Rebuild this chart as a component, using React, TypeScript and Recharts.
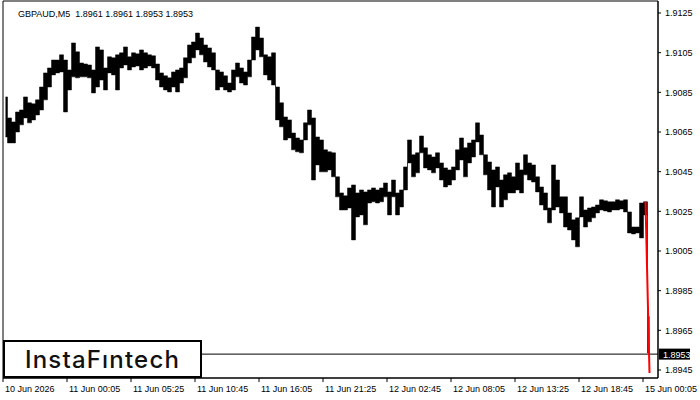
import React from "react";
import {
  ComposedChart,
  Area,
  Line,
  XAxis,
  YAxis,
  ReferenceLine,
  ReferenceArea,
} from "recharts";

// each column = 4 five-minute bars (high / low of the group)
const highs = [
  1.90827, 1.90721, 1.90701, 1.90751, 1.90761, 1.90827, 1.90797, 1.90792, 1.90812, 1.90877,
  1.90948, 1.90973, 1.91013, 1.91013, 1.91039, 1.91013, 1.90963, 1.91099, 1.91054, 1.90998,
  1.90993, 1.90988, 1.90963, 1.91079, 1.91064, 1.90973, 1.91029, 1.91024, 1.91039, 1.91049,
  1.91079, 1.91029, 1.91049, 1.91044, 1.91064, 1.91049, 1.91039, 1.91034, 1.90993, 1.90948,
  1.90933, 1.90923, 1.90953, 1.90963, 1.90973, 1.91024, 1.91089, 1.91104, 1.91149, 1.91124,
  1.91089, 1.91074, 1.91049, 1.90963, 1.90953, 1.90933, 1.90897, 1.90963, 1.90998, 1.90973,
  1.90953, 1.91013, 1.91129, 1.91179, 1.91124, 1.91039, 1.91029, 1.91049, 1.90877, 1.90797,
  1.90726, 1.90711, 1.90645, 1.9062, 1.9061, 1.90696, 1.90761, 1.90721, 1.90625, 1.9061,
  1.9056, 1.9055, 1.90545, 1.90424, 1.90343, 1.90328, 1.90368, 1.90383, 1.90343, 1.90358,
  1.90348, 1.90358, 1.90368, 1.90358, 1.90368, 1.90393, 1.90348, 1.90408, 1.90343, 1.90358,
  1.90474, 1.9061, 1.90535, 1.90545, 1.9063, 1.9057, 1.90535, 1.90524, 1.90545, 1.90494,
  1.90469, 1.90459, 1.90474, 1.9056, 1.9062, 1.9057, 1.90595, 1.9061, 1.90696, 1.90635,
  1.90535, 1.90499, 1.90459, 1.90474, 1.90408, 1.90434, 1.90444, 1.90424, 1.90494, 1.90459,
  1.90535, 1.90494, 1.90484, 1.90424, 1.90373, 1.90343, 1.90267, 1.90484, 1.90408, 1.90323,
  1.90323, 1.90242, 1.90207, 1.90217, 1.90323, 1.90257, 1.90267, 1.90272, 1.90282, 1.90308,
  1.90303, 1.90298, 1.90298, 1.90308, 1.90303, 1.90308, 1.90247, 1.90171, 1.90171, 1.90292,
  1.90298, 1.89718,
];
const lows = [
  1.90625, 1.90595, 1.90595, 1.9065, 1.90686, 1.90721, 1.90696, 1.90711, 1.90736, 1.90761,
  1.90812, 1.90877, 1.90938, 1.90948, 1.90953, 1.90751, 1.90862, 1.90928, 1.90923, 1.90928,
  1.90928, 1.90923, 1.90847, 1.90877, 1.90912, 1.90862, 1.90948, 1.90938, 1.90862, 1.90973,
  1.90988, 1.90963, 1.90978, 1.90983, 1.90963, 1.90973, 1.90983, 1.90973, 1.90912, 1.90877,
  1.90862, 1.90852, 1.90877, 1.90852, 1.90897, 1.90923, 1.90998, 1.91024, 1.91064, 1.91039,
  1.91003, 1.90978, 1.90963, 1.90862, 1.90877, 1.90862, 1.90852, 1.90862, 1.90928, 1.90897,
  1.90887, 1.90928, 1.91013, 1.91064, 1.91029, 1.90938, 1.90912, 1.90887, 1.90711, 1.90676,
  1.9061, 1.9062, 1.9056, 1.9055, 1.90545, 1.9061, 1.90686, 1.90408, 1.90484, 1.90449,
  1.90449, 1.90459, 1.90424, 1.90323, 1.90257, 1.90257, 1.90267, 1.90106, 1.90222, 1.90232,
  1.90182, 1.90292, 1.90298, 1.90292, 1.90298, 1.90323, 1.90232, 1.90323, 1.90232, 1.90272,
  1.90358, 1.90494, 1.90424, 1.90444, 1.90545, 1.90469, 1.90459, 1.90444, 1.90469, 1.90408,
  1.90373, 1.90383, 1.90408, 1.90459, 1.90509, 1.90424, 1.90494, 1.90524, 1.906, 1.90535,
  1.90434, 1.90358, 1.90272, 1.90373, 1.90272, 1.90308, 1.90343, 1.90343, 1.90358, 1.90343,
  1.90434, 1.90408, 1.90398, 1.90348, 1.90282, 1.90257, 1.90192, 1.90257, 1.90272, 1.90242,
  1.90171, 1.90156, 1.90106, 1.90071, 1.90222, 1.90171, 1.90197, 1.90217, 1.90242, 1.90257,
  1.90252, 1.90247, 1.90257, 1.90257, 1.90262, 1.90247, 1.90141, 1.90136, 1.90141, 1.90116,
  1.90232, 1.89536,
];

// last bars drawn in red (column index -> price)
const redColumns = [160, 161];
const redPrices = [1.90298, 1.89435];

const timeTicks = [-1, 63, 127, 191, 255, 319, 383, 447, 511, 575, 639];
const timeLabels = [
  "10 Jun 2026",
  "11 Jun 00:05",
  "11 Jun 05:25",
  "11 Jun 10:45",
  "11 Jun 16:05",
  "11 Jun 21:25",
  "12 Jun 02:45",
  "12 Jun 08:05",
  "12 Jun 13:25",
  "12 Jun 18:45",
  "15 Jun 00:05",
];
const priceTicks = [
  1.8945, 1.8965, 1.8985, 1.9005, 1.9025, 1.9045, 1.9065, 1.9085, 1.9105, 1.9125,
];
const lastPrice = 1.8953;
const headerText = "GBPAUD,M5  1.8961 1.8961 1.8953 1.8953";

const Y_MIN = 1.894096;
const Y_MAX = 1.913105;
const X_MIN = -1;
const X_MAX = 654;
const FONT = "'Liberation Sans', Arial, sans-serif";

const chartData = highs.map((h, i) => {
  const r = redColumns.indexOf(i);
  return {
    k: i * 4 + 1.5,
    range: [lows[i], h],
    red: r >= 0 ? redPrices[r] : undefined,
  };
});

const TimeTick = (props: any) => {
  const { x, y, payload } = props;
  const idx = timeTicks.indexOf(payload.value);
  return (
    <text x={x + 2} y={y + 10} fontSize={9} fontFamily={FONT} fill="#000">
      {timeLabels[idx]}
    </text>
  );
};

const PriceTag = (props: any) => {
  const { x, y, width } = props.viewBox;
  const left = x + width + 1;
  return (
    <g>
      <rect x={left} y={y - 5.5} width={31} height={11} fill="#000" />
      <text x={left + 4} y={y + 3.5} fontSize={9} fontFamily={FONT} fill="#fff">
        {lastPrice.toFixed(4)}
      </text>
    </g>
  );
};

const App = () => {
  return (
    <div
      style={{
        position: "absolute",
        left: 0,
        top: 0,
        width: 700,
        height: 400,
        background: "#fff",
      }}
    >
      <ComposedChart
        width={700}
        height={400}
        data={chartData}
        margin={{ top: 1, right: 0, bottom: 0, left: 3 }}
      >
        <XAxis
          dataKey="k"
          type="number"
          domain={[X_MIN, X_MAX]}
          ticks={timeTicks}
          interval={0}
          height={22}
          tickSize={4}
          tickMargin={0}
          stroke="#000"
          tick={<TimeTick />}
          allowDataOverflow
        />
        <YAxis
          orientation="right"
          type="number"
          domain={[Y_MIN, Y_MAX]}
          ticks={priceTicks}
          interval={0}
          width={42}
          tickSize={3}
          tickMargin={4}
          stroke="#000"
          tick={{ fontSize: 9, fontFamily: FONT, fill: "#000" }}
          tickFormatter={(v: number) => v.toFixed(4)}
          allowDataOverflow
        />
        <ReferenceArea
          x1={X_MIN}
          x2={X_MAX}
          y1={Y_MIN}
          y2={Y_MAX}
          fill="none"
          stroke="#000"
          strokeWidth={1}
          fillOpacity={0}
        />
        <ReferenceLine
          y={lastPrice}
          stroke="#000"
          strokeWidth={1}
          label={<PriceTag />}
        />
        <Area
          dataKey="range"
          type="step"
          fill="#000"
          fillOpacity={1}
          stroke="#000"
          strokeWidth={0.5}
          dot={false}
          activeDot={false}
          isAnimationActive={false}
        />
        <Line
          dataKey="red"
          stroke="#ff0000"
          strokeWidth={2}
          dot={false}
          isAnimationActive={false}
        />
      </ComposedChart>
      <div
        style={{
          position: "absolute",
          left: 18,
          top: 8,
          fontSize: 9,
          lineHeight: "12px",
          fontFamily: FONT,
          color: "#000",
          whiteSpace: "pre",
        }}
      >
        {headerText}
      </div>
      <div
        style={{
          position: "absolute",
          left: 3,
          top: 340,
          width: 195,
          height: 34,
          border: "2px solid #000",
          background: "#fff",
          display: "flex",
          alignItems: "center",
          justifyContent: "center",
          fontFamily: "Inter, 'Noto Sans', sans-serif",
          fontWeight: 500,
          fontSize: 24,
          letterSpacing: 1.2,
          color: "#111",
        }}
      >
        InstaFıntech
      </div>
    </div>
  );
};

export default App;
